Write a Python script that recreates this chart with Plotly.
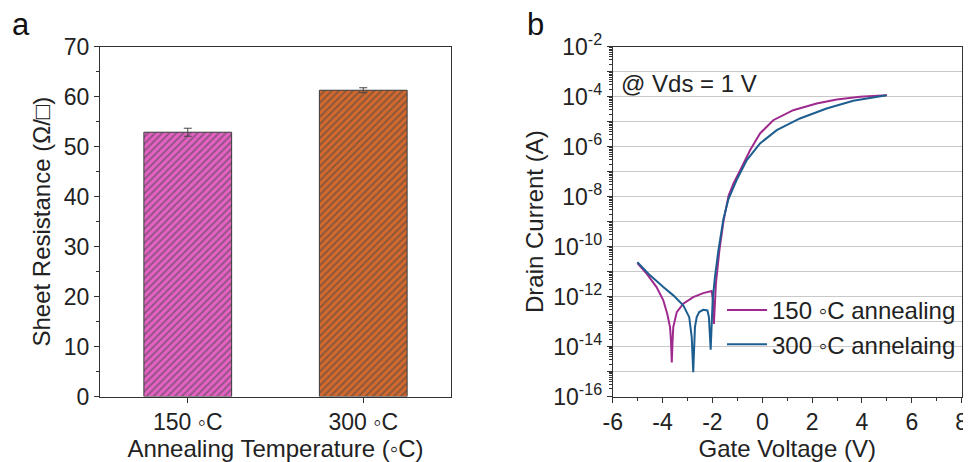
import plotly.graph_objects as go

# ---- Panel a data ----
temps = ["150 ◦C", "300 ◦C"]
sheet_res = [52.9, 61.3]
sheet_err = [0.8, 0.5]
bar_colors = ["#E462C4", "#D2692E"]
stripe_colors = ["#932A80", "#7A3412"]

# ---- Panel b data ----
vg_150 = [-5.01, -4.64, -4.24, -3.97, -3.81, -3.70, -3.66, -3.63, -3.60, -3.57, -3.43, -3.17,
          -2.77, -2.37, -2.03, -1.97, -1.94, -1.90, -1.86, -1.72, -1.55, -1.35, -1.15,
          -0.89, -0.49, -0.09, 0.44, 1.24, 2.18, 2.99, 3.92, 5.0]
id_150 = [2.19e-11, 8.3e-12, 2.4e-12, 7.1e-13, 2.0e-13, 6.0e-14, 1.6e-14, 2.3e-15, 1.6e-14,
          6.0e-14, 2.4e-13, 5.2e-13, 9.5e-13, 1.38e-12, 1.66e-12, 6.3e-13, 8.1e-14, 6.3e-13,
          3.3e-12, 7.1e-11, 1.12e-09, 1.12e-08, 3.5e-08, 1.12e-07, 7.2e-07, 3.4e-06,
          1.15e-05, 2.9e-05, 5.4e-05, 7.8e-05, 1.0e-04, 1.15e-04]

vg_300 = [-5.01, -4.50, -3.97, -3.57, -3.17, -2.93, -2.83, -2.77, -2.70, -2.63, -2.53, -2.37,
          -2.20, -2.14, -2.07, -1.99, -1.90, -1.76, -1.56, -1.36, -1.03, -0.62, -0.09,
          0.58, 1.51, 2.58, 3.65, 4.99]
id_300 = [2.4e-11, 7.1e-12, 2.4e-12, 1.12e-12, 4.5e-13, 1.5e-13, 2.4e-14, 9.3e-16, 6.0e-14,
          1.5e-13, 2.4e-13, 2.95e-13, 2.8e-13, 1.5e-13, 7.4e-15, 7.1e-13, 6.0e-12, 7.1e-11,
          1.26e-09, 7.9e-09, 4.6e-08, 2.9e-07, 1.35e-06, 4.6e-06, 1.35e-05, 3.4e-05,
          6.9e-05, 1.15e-04]

vg_tickvals = [-6, -4, -2, 0, 2, 4, 6, 8]
vg_ticktext = ["-6", "-4", "-2", "0", "2", "4", "6", "8"]

exps = list(range(-16, -1))
y_tickvals = [10.0 ** e for e in exps]
y_ticktext = [f"10<sup>{e}</sup>" if e % 2 == 0 else "" for e in exps]
y_minorvals = [m * 10.0 ** e for e in exps[:-1] for m in range(2, 10)]

FONT = "Liberation Sans, Arial, sans-serif"
TXT = "#222222"

# page body has an 8px margin: lay out in window pixels, then shift
OFF = 8
W, H = 971 - OFF, 462 - OFF


def px(x):
    return (x - OFF) / W


def py(y):
    return 1 - (y - OFF) / H


fig = go.Figure()

fig.add_trace(go.Bar(
    x=temps, y=sheet_res, width=0.5,
    error_y=dict(type="data", array=sheet_err, color="#444444", thickness=1, width=4),
    marker=dict(color=bar_colors, line=dict(color="#3a3a3a", width=1),
                pattern=dict(shape="/", fillmode="overlay", fgcolor=stripe_colors,
                             size=5, solidity=0.4)),
    showlegend=False, xaxis="x", yaxis="y"))

fig.add_trace(go.Scatter(x=vg_150, y=id_150, mode="lines", name="150 ◦C annealing",
                         line=dict(color="#9E2A8E", width=2), xaxis="x2", yaxis="y2"))
fig.add_trace(go.Scatter(x=vg_300, y=id_300, mode="lines", name="300 ◦C annelaing",
                         line=dict(color="#1D5E90", width=2), xaxis="x2", yaxis="y2"))

ydom = [py(396.5), py(46.8)]
axis_common = dict(showline=True, linecolor="#333333", linewidth=1, mirror=True,
                   ticks="outside", tickcolor="#333333", ticklen=5,
                   tickfont=dict(size=23, color=TXT, family=FONT), automargin=False)
TITLE_FONT = dict(size=24, color=TXT, family=FONT)

fig.update_layout(
    width=W, height=H,
    margin=dict(l=0, r=0, t=0, b=0),
    paper_bgcolor="white", plot_bgcolor="white",
    font=dict(family=FONT, color=TXT),
    xaxis=dict(domain=[px(100), px(451)], range=[-0.5, 1.5], anchor="y",
               title=dict(text="Annealing Temperature (◦C)", font=TITLE_FONT, standoff=2),
               showgrid=False, **axis_common),
    yaxis=dict(domain=ydom, range=[0, 70], dtick=10, anchor="x",
               title=dict(text="Sheet Resistance (Ω/□)", font=TITLE_FONT, standoff=6),
               showgrid=False, minor=dict(ticks="outside", dtick=5, ticklen=3, tickcolor="#333333"),
               **axis_common),
    xaxis2=dict(domain=[px(612.7), px(961.7)], range=[-6, 8], anchor="y2",
                tickmode="array", tickvals=vg_tickvals, ticktext=vg_ticktext,
                title=dict(text="Gate Voltage (V)", font=TITLE_FONT, standoff=2),
                showgrid=False, zeroline=False,
                minor=dict(ticks="outside", tickmode="linear", tick0=-6, dtick=1,
                           ticklen=3, tickcolor="#333333"),
                **axis_common),
    yaxis2=dict(domain=ydom, type="log", range=[-16, -2], anchor="x2",
                tickmode="array", tickvals=y_tickvals, ticktext=y_ticktext,
                title=dict(text="Drain Current (A)", font=TITLE_FONT, standoff=2),
                showgrid=True, gridcolor="#C8C8C8", gridwidth=1,
                minor=dict(tickmode="array", tickvals=y_minorvals, ticks="outside",
                           ticklen=3, tickcolor="#333333", showgrid=False),
                **axis_common),
    legend=dict(x=px(722), y=py(288), xanchor="left", yanchor="top",
                bgcolor="rgba(0,0,0,0)", font=dict(size=24, color=TXT, family=FONT),
                itemwidth=40, tracegroupgap=0),
    annotations=[
        dict(text="a", x=px(10), y=py(25), xref="paper", yref="paper",
             xanchor="left", yanchor="middle", showarrow=False,
             font=dict(size=31, color="#111", family=FONT)),
        dict(text="b", x=px(525), y=py(25), xref="paper", yref="paper",
             xanchor="left", yanchor="middle", showarrow=False,
             font=dict(size=31, color="#111", family=FONT)),
        dict(text="@ Vds = 1 V", x=px(619), y=py(83), xref="paper", yref="paper",
             xanchor="left", yanchor="middle", showarrow=False,
             font=dict(size=24, color=TXT, family=FONT)),
    ],
)

fig.write_html("out.html")
